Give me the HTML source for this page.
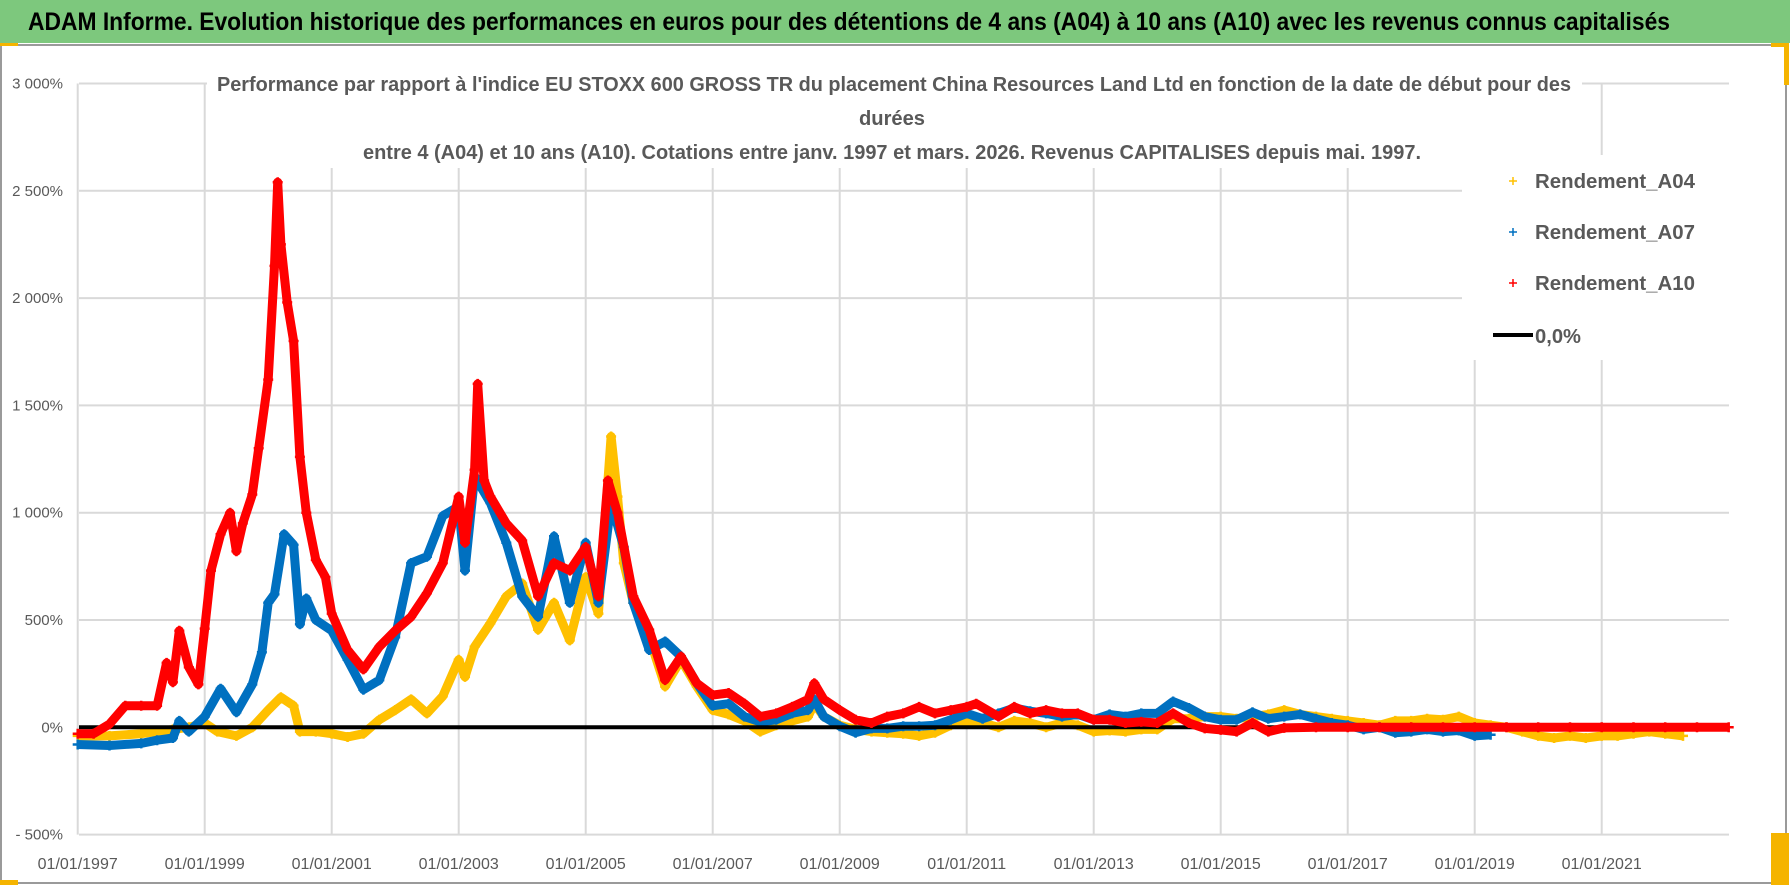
<!DOCTYPE html>
<html><head><meta charset="utf-8"><style>
html,body{margin:0;padding:0;background:#fff}
svg{display:block}
text{font-family:"Liberation Sans",sans-serif}
</style></head><body>
<svg id="chart" width="1790" height="886" viewBox="0 0 1790 886" xmlns="http://www.w3.org/2000/svg">
<rect x="0" y="0" width="1790" height="886" fill="#fff"/>
<rect x="0" y="0" width="1790" height="43" fill="#7dc87d"/>
<text x="28" y="30" font-size="25" font-weight="bold" fill="#000" textLength="1642" lengthAdjust="spacingAndGlyphs">ADAM Informe. Evolution historique des performances en euros pour des détentions de 4 ans (A04) à 10 ans (A10) avec les revenus connus capitalisés</text>
<rect x="1" y="45" width="1785" height="838" fill="none" stroke="#9a9a9a" stroke-width="2"/>
<rect x="0" y="43" width="18" height="3" fill="#f5b400"/>
<rect x="0" y="880" width="18" height="5" fill="#f5b400"/>
<rect x="1771" y="43" width="18" height="4" fill="#f5b400"/>
<rect x="1784" y="43" width="5" height="42" fill="#f5b400"/>
<rect x="1771" y="833" width="18" height="52" fill="#f5b400"/>
<g id="grid"></g>
<g id="axes"></g>
<g id="series"></g>
<rect x="207" y="68" width="1375" height="100" fill="#fff"/>
<text x="217" y="91" font-size="20" font-weight="bold" fill="#595959" textLength="1354" lengthAdjust="spacingAndGlyphs">Performance par rapport à l'indice EU STOXX 600 GROSS TR  du placement China Resources Land Ltd en fonction de la date de début pour des</text>
<text x="892" y="125" font-size="20" font-weight="bold" fill="#595959" text-anchor="middle" textLength="66" lengthAdjust="spacingAndGlyphs">durées</text>
<text x="363" y="159" font-size="20" font-weight="bold" fill="#595959" textLength="1058" lengthAdjust="spacingAndGlyphs">entre 4 (A04) et 10 ans (A10).  Cotations entre janv. 1997 et mars. 2026.  Revenus CAPITALISES  depuis mai. 1997.</text>
<g>
<rect x="1462" y="155" width="268" height="205" fill="#fff"/>
<g><path d="M1509 181h8M1513 177v8" stroke="#FFC000" stroke-width="1.5"/><text x="1535" y="188" font-size="20" font-weight="bold" fill="#595959" textLength="160" lengthAdjust="spacingAndGlyphs">Rendement_A04</text></g>
<g><path d="M1509 232h8M1513 228v8" stroke="#0070C0" stroke-width="1.5"/><text x="1535" y="239" font-size="20" font-weight="bold" fill="#595959" textLength="160" lengthAdjust="spacingAndGlyphs">Rendement_A07</text></g>
<g><path d="M1509 283h8M1513 279v8" stroke="#FF0000" stroke-width="1.5"/><text x="1535" y="290" font-size="20" font-weight="bold" fill="#595959" textLength="160" lengthAdjust="spacingAndGlyphs">Rendement_A10</text></g>
<g><path d="M1493 335h40" stroke="#000" stroke-width="4"/><text x="1535" y="343" font-size="20" font-weight="bold" fill="#595959" textLength="46" lengthAdjust="spacingAndGlyphs">0,0%</text></g>
</g>
</svg>
<script>
const yTicks = [-500, 0, 500, 1000, 1500, 2000, 2500, 3000];
const yTickLabels = ["- 500%", "0%", "500%", "1 000%", "1 500%", "2 000%", "2 500%", "3 000%"];
const xTicks = [1997, 1999, 2001, 2003, 2005, 2007, 2009, 2011, 2013, 2015, 2017, 2019, 2021];
const xTickLabels = ["01/01/1997","01/01/1999","01/01/2001","01/01/2003","01/01/2005","01/01/2007","01/01/2009","01/01/2011","01/01/2013","01/01/2015","01/01/2017","01/01/2019","01/01/2021"];

const datesA04 = [1997,1997.5,1998,1998.5,1998.75,1999,1999.2,1999.5,1999.75,2000,2000.2,2000.4,2000.5,2000.75,2001,2001.25,2001.5,2001.75,2002,2002.25,2002.5,2002.75,2003,2003.1,2003.25,2003.5,2003.75,2004,2004.25,2004.5,2004.75,2005,2005.2,2005.4,2005.5,2005.6,2005.75,2006,2006.25,2006.5,2006.75,2007,2007.25,2007.5,2007.75,2008,2008.25,2008.5,2008.6,2008.75,2009,2009.25,2009.5,2009.75,2010,2010.25,2010.5,2010.75,2011,2011.25,2011.5,2011.75,2012,2012.25,2012.5,2012.75,2013,2013.25,2013.5,2013.75,2014,2014.25,2014.5,2014.75,2015,2015.25,2015.5,2015.75,2016,2016.25,2016.5,2016.75,2017,2017.25,2017.5,2017.75,2018,2018.25,2018.5,2018.75,2019,2019.25,2019.5,2019.75,2020,2020.25,2020.5,2020.75,2021,2021.25,2021.5,2021.75,2022,2022.28];
const valuesA04 = [-40,-40,-30,-10,0,20,-20,-40,0,80,140,100,-20,-20,-30,-45,-30,35,80,130,65,145,315,235,375,485,610,670,455,580,405,700,530,1355,1075,765,580,420,190,315,190,80,60,30,-20,10,30,50,110,50,10,-10,-20,-25,-30,-40,-25,10,30,20,0,30,20,0,20,10,-20,-15,-20,-10,-10,40,40,50,50,40,50,60,80,60,50,40,30,20,10,30,30,40,35,50,20,10,0,-20,-40,-50,-40,-50,-40,-40,-30,-20,-30,-40];

const datesA07 = [1997,1997.5,1998,1998.25,1998.5,1998.6,1998.75,1999,1999.25,1999.5,1999.75,1999.9,2000,2000.1,2000.25,2000.4,2000.5,2000.6,2000.75,2001,2001.25,2001.5,2001.75,2002,2002.25,2002.5,2002.75,2003,2003.1,2003.25,2003.5,2003.75,2004,2004.25,2004.5,2004.75,2005,2005.2,2005.4,2005.6,2005.75,2006,2006.25,2006.5,2006.75,2007,2007.25,2007.5,2007.75,2008,2008.25,2008.5,2008.6,2008.75,2009,2009.25,2009.5,2009.75,2010,2010.25,2010.5,2010.75,2011,2011.25,2011.5,2011.75,2012,2012.25,2012.5,2012.75,2013,2013.25,2013.5,2013.75,2014,2014.25,2014.5,2014.75,2015,2015.25,2015.5,2015.75,2016,2016.25,2016.5,2016.75,2017,2017.25,2017.5,2017.75,2018,2018.25,2018.5,2018.75,2019,2019.25];
const valuesA07 = [-80,-85,-75,-60,-50,30,-20,50,180,70,200,350,580,620,900,850,480,600,500,450,315,175,220,420,765,795,985,1030,730,1170,1045,860,610,515,890,580,860,580,1045,840,580,360,400,330,205,100,110,50,25,35,65,80,130,50,5,-25,-5,-5,5,5,10,35,65,40,65,90,75,65,50,60,35,60,50,65,65,120,90,50,35,35,70,40,50,60,40,20,10,-10,0,-25,-20,-10,-20,-15,-40,-35];

const datesA10 = [1997,1997.25,1997.5,1997.75,1998,1998.25,1998.4,1998.5,1998.6,1998.75,1998.9,1999,1999.1,1999.25,1999.4,1999.5,1999.6,1999.75,1999.85,2000,2000.1,2000.15,2000.2,2000.3,2000.4,2000.5,2000.6,2000.75,2000.9,2001,2001.25,2001.5,2001.75,2002,2002.25,2002.5,2002.75,2003,2003.1,2003.25,2003.3,2003.4,2003.5,2003.75,2004,2004.25,2004.5,2004.75,2005,2005.2,2005.35,2005.5,2005.75,2006,2006.25,2006.5,2006.75,2007,2007.25,2007.5,2007.75,2008,2008.25,2008.5,2008.6,2008.75,2009,2009.25,2009.5,2009.75,2010,2010.25,2010.5,2010.75,2011,2011.15,2011.5,2011.75,2012,2012.25,2012.5,2012.75,2013,2013.25,2013.5,2013.75,2014,2014.25,2014.5,2014.75,2015,2015.25,2015.5,2015.75,2016,2016.5,2017,2017.5,2018,2018.5,2019,2019.5,2020,2020.5,2021,2021.5,2022,2022.5,2023];
const valuesA10 = [-30,-30,15,100,100,100,300,210,450,280,200,460,730,900,1000,820,950,1085,1300,1620,2150,2540,2250,1980,1800,1260,1000,780,700,530,360,270,375,450,515,625,765,1075,860,1200,1600,1150,1075,950,870,610,765,730,840,610,1150,1000,610,455,220,330,205,150,160,110,50,65,95,130,205,130,80,35,20,50,65,95,65,80,95,110,50,95,65,80,65,65,35,35,20,25,20,65,20,-5,-12,-20,20,-20,-3,0,0,0,0,0,0,0,0,0,0,0,0,0,0];

const NS = "http://www.w3.org/2000/svg";
const X0 = 77.7, PXY = 63.5, Y0 = 727.3, PXV = 0.2146;
const xS = t => X0 + (t - 1997) * PXY;
const yS = v => Y0 - v * PXV;
const PL = 79, PR = 1729;

function mk(tag, attrs, parent) {
  const e = document.createElementNS(NS, tag);
  for (const k in attrs) e.setAttribute(k, attrs[k]);
  parent.appendChild(e);
  return e;
}
const grid = document.getElementById('grid');
const axes = document.getElementById('axes');
yTicks.forEach((v, i) => {
  const l = mk('line', {x1: PL, x2: PR, y1: yS(v), y2: yS(v), stroke: '#d9d9d9', 'stroke-width': 2}, grid);
  
  
  const t = mk('text', {x: 63, y: yS(v) + 5, 'font-size': 15, fill: '#595959', 'text-anchor': 'end'}, axes);
  t.textContent = yTickLabels[i];
  
  
});
xTicks.forEach((yr, i) => {
  const x = xS(yr);
  const l = mk('line', {x1: x, x2: x, y1: yS(3000), y2: yS(-500), stroke: '#d9d9d9', 'stroke-width': 2}, grid);
  
  
  const t = mk('text', {x: x, y: 869, 'font-size': 16, fill: '#595959', 'text-anchor': 'middle'}, axes);
  t.textContent = xTickLabels[i];
  
  
});

const ser = document.getElementById('series');
function drawSeries(dates, vals, color, name) {
  const g = mk('g', {}, ser);
  
  
  const pts = dates.map((d, i) => xS(d).toFixed(1) + ',' + yS(vals[i]).toFixed(1)).join(' ');
  mk('polyline', {points: pts, fill: 'none', stroke: color, 'stroke-width': 9, 'stroke-linejoin': 'round'}, g);
  let d = '';
  dates.forEach((t, i) => {
    const x = xS(t), y = yS(vals[i]);
    d += 'M' + (x - 5).toFixed(1) + ' ' + y.toFixed(1) + 'h10M' + x.toFixed(1) + ' ' + (y - 5).toFixed(1) + 'v10';
  });
  const p = mk('path', {d: d, stroke: color, 'stroke-width': 2.5, fill: 'none'}, g);
  
  
}
drawSeries(datesA04, valuesA04, '#FFC000', 'series-a04');
drawSeries(datesA07, valuesA07, '#0070C0', 'series-a07');
drawSeries(datesA10, valuesA10, '#FF0000', 'series-a10');
const z = mk('line', {x1: PL, x2: PR, y1: yS(0), y2: yS(0), stroke: '#000', 'stroke-width': 4}, ser);


ser.appendChild(ser.children[2]);
</script>
</body></html>
